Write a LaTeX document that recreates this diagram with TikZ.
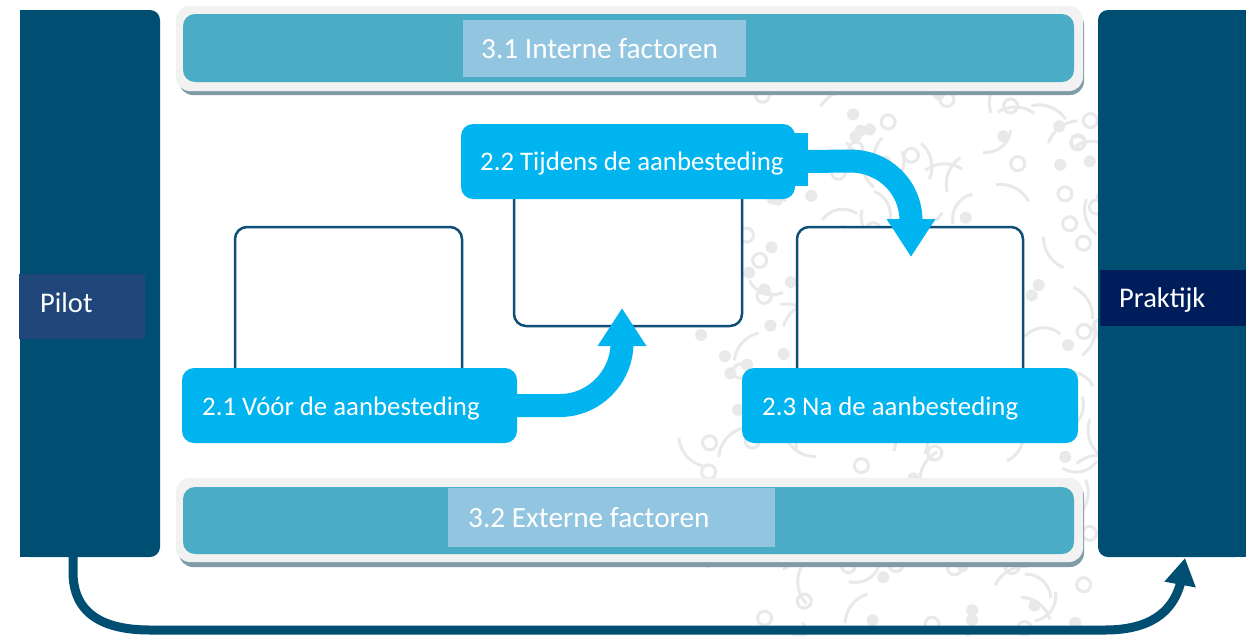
\documentclass[tikz,border=0pt]{standalone}
\usepackage{fontspec}
\setmainfont{Carlito}
\usetikzlibrary{arrows.meta,calc}
\definecolor{navy}{HTML}{004E72}
\definecolor{pilotc}{HTML}{21467A}
\definecolor{praktc}{HTML}{001D5B}
\definecolor{bandc}{HTML}{4BACC6}
\definecolor{lightlab}{HTML}{92C6E0}
\definecolor{framec}{HTML}{F2F2F2}
\definecolor{shadowc}{HTML}{7F9CA6}
\definecolor{stepcyan}{HTML}{00B4EF}
\definecolor{boxline}{HTML}{0E4F77}
\definecolor{patc}{HTML}{E9E9E9}
\tikzset{
  nw/.style={anchor=north west, inner sep=0pt, outer sep=0pt},
  bar/.style={nw, fill=navy, rounded corners=10pt},
  band/.style={nw, fill=bandc, rounded corners=12pt},
  bandlab/.style={nw, fill=lightlab},
  cyanlab/.style={nw, fill=stepcyan, rounded corners=12pt},
  wbox/.style={nw, fill=white, draw=boxline, line width=2.5pt, rounded corners=12pt},
  labtxt/.style={anchor=base west, inner sep=0pt, text=white, font=\fontsize{26.8pt}{32pt}\selectfont},
  bandtxt/.style={anchor=base west, inner sep=0pt, text=white, font=\fontsize{29.3pt}{34pt}\selectfont},
  sidetxt/.style={anchor=base west, inner sep=0pt, text=white, font=\fontsize{28.5pt}{34pt}\selectfont},
  bigarrow/.style={stepcyan, line width=23pt, -{Triangle[width=46pt,length=38pt]}},
  loop/.style={navy, line width=9pt, -{Triangle[width=30pt,length=27pt]}},
  pat/.style={patc, line width=3pt}
}
\begin{document}
\begin{tikzpicture}[x=1pt,y=-1pt]
\useasboundingbox (0,0) rectangle (1246,635);
\fill[white] (0,0) rectangle (1246,635);

% background texture
\pgfmathsetseed{31}
\foreach \i in {1,...,230}{
  \pgfmathsetmacro\px{700+410*rnd}
  \pgfmathsetmacro\py{92+548*rnd}
  \pgfmathsetmacro\ty{int(4*rnd)}
  \pgfmathsetmacro\aa{360*rnd}
  \ifcase\ty
    \draw[pat] (\px,\py) circle[radius=7];
  \or
    \fill[patc] (\px,\py) circle[radius=6];
  \or
    \draw[pat] (\px,\py) arc[start angle=\aa, delta angle=90, radius=25];
  \else
    \draw[pat] (\px,\py) arc[start angle=\aa, delta angle=70, radius=32];
  \fi
}

% side bars
\node[bar, minimum width=140pt, minimum height=547pt] (pilotbar) at (20,10) {};
\fill[navy] (20,10) rectangle (70,557);
\node[nw, fill=pilotc, minimum width=126pt, minimum height=65pt] (pilotlab) at (19,274) {};
\node[sidetxt] (pilottxt) at (40,312) {Pilot};

\node[bar, minimum width=148pt, minimum height=547pt] (praktbar) at (1098,10) {};
\fill[navy] (1180,10) rectangle (1246,557);
\node[nw, fill=praktc, minimum width=146pt, minimum height=56pt] (praktlab) at (1100,270) {};
\node[sidetxt] (prakttxt) at (1119,307) {Praktijk};

% top band
\fill[shadowc, rounded corners=14pt] (179,11) rectangle (1084,95);
\fill[framec, rounded corners=14pt] (176,6) rectangle (1083,91);
\node[band, minimum width=891pt, minimum height=68pt] (topband) at (183,14) {};
\node[bandlab, minimum width=283pt, minimum height=57pt] (l31) at (463,20) {};
\node[bandtxt] (t31) at (481,58) {3.1 Interne factoren};

% bottom band
\fill[shadowc, rounded corners=14pt] (179,482) rectangle (1084,567);
\fill[framec, rounded corners=14pt] (176,478) rectangle (1083,562);
\node[band, minimum width=891pt, minimum height=67pt] (botband) at (183,487) {};
\node[bandlab, minimum width=327pt, minimum height=59pt] (l32) at (448,488) {};
\node[bandtxt] (t32) at (468,527) {3.2 Externe factoren};

% white boxes
\node[wbox, minimum width=227pt, minimum height=173pt] (b1) at (235,227) {};
\node[wbox, minimum width=228pt, minimum height=156pt] (b2) at (514,170) {};
\node[wbox, minimum width=226pt, minimum height=173pt] (b3) at (797,227) {};

% cyan labels
\node[cyanlab, minimum width=335pt, minimum height=75pt] (l21) at (182,368) {};
\node[labtxt] (t21) at (202,415) {2.1 Vóór de aanbesteding};
\node[cyanlab, minimum width=334pt, minimum height=75pt] (l22) at (461,124) {};
\fill[stepcyan] (790,133) rectangle (808,186);
\node[labtxt] (t22) at (480,170) {2.2 Tijdens de aanbesteding};
\node[cyanlab, minimum width=336pt, minimum height=75pt] (l23) at (742,368) {};
\node[labtxt] (t23) at (762,415) {2.3 Na de aanbesteding};

% cyan arrows
\coordinate (a1tip) at ($(b2.south)+(-6,-18)$);
\draw[bigarrow] (l21.east) -- (560,405.5) .. controls (594,405.5) and (622,377) .. (622,343) -- (a1tip);
\coordinate (a2tip) at ($(b3.north)+(1,30)$);
\draw[bigarrow] ($(l22.east)+(12,0)$) -- (850,161) .. controls (884,161) and (911,187) .. (911,221) -- (a2tip);

% return loop
\coordinate (loopstart) at ($(pilotbar.south)+(-17,0)$);
\coordinate (loopend) at ($(praktbar.south)+(13,1)$);
\draw[loop] (loopstart) -- (73,572) .. controls (73,615) and (105,630) .. (150,630) -- (1105,630) .. controls (1150,630) and (1172,612) .. (1180,585) -- (loopend);
\end{tikzpicture}
\end{document}
